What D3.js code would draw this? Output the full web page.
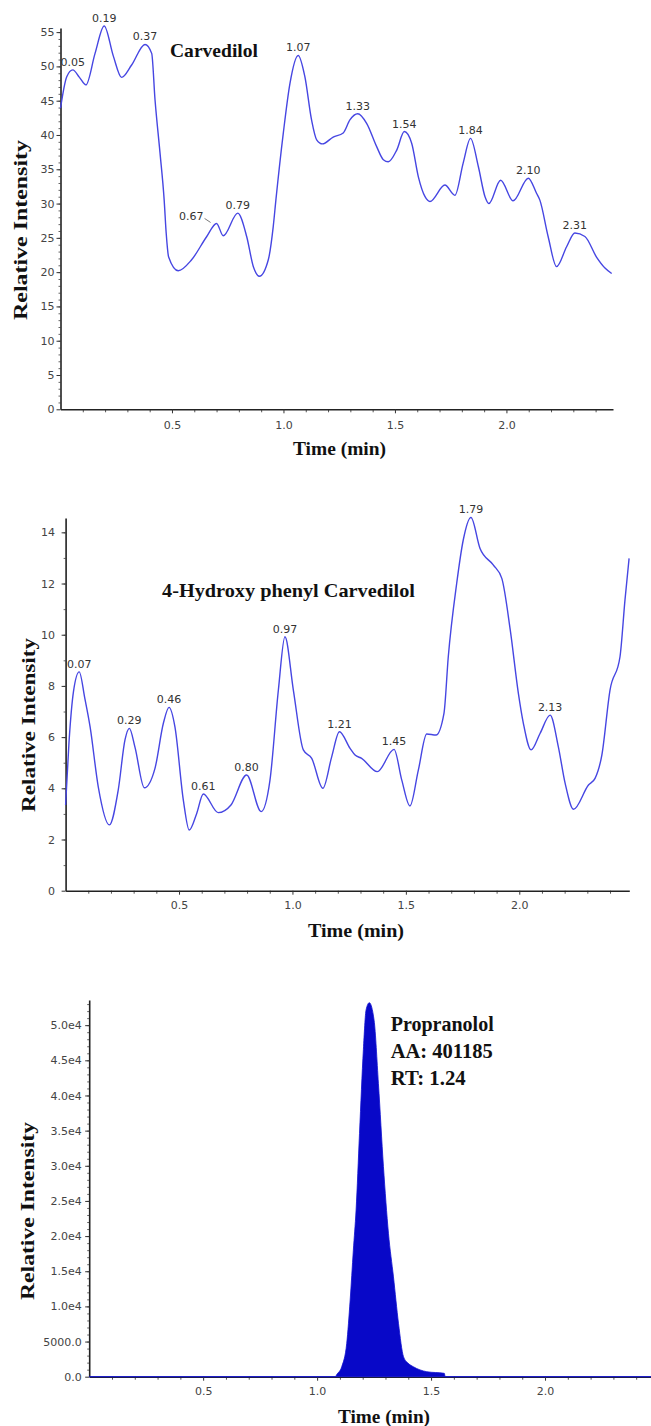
<!DOCTYPE html>
<html>
<head>
<meta charset="utf-8">
<script src="https://cdn.jsdelivr.net/npm/d3@7"></script>
<style>
    body { margin: 0; background: #fff; }
    svg text { font-family: "DejaVu Sans", Arial, sans-serif; }
    .tick text { fill: #444; font-size: 11px; }
    .peak-label { fill: #333; font-size: 11px; }
    .title { font-family: "Liberation Serif", "Times New Roman", serif; font-weight: bold; fill: #111; }
</style>
</head>
<body>
<svg id="chart" width="651" height="1426"></svg>
<script>
// Carvedilol trace (time in min, relative intensity)
const carvTime = [0.000, 0.028, 0.055, 0.085, 0.114, 0.155, 0.196, 0.237, 0.274, 0.319, 0.379, 0.409, 0.424, 0.446,
    0.465, 0.474, 0.485, 0.528, 0.588, 0.656, 0.700, 0.730, 0.795, 0.835, 0.865, 0.892, 0.932, 0.954, 0.966,
    0.999, 1.029, 1.066, 1.096, 1.126, 1.149, 1.175, 1.223, 1.268, 1.298, 1.333, 1.373, 1.418, 1.448, 1.470,
    1.508, 1.542, 1.575, 1.605, 1.635, 1.657, 1.724, 1.769, 1.806, 1.839, 1.874, 1.904, 1.921, 1.974, 2.030,
    2.098, 2.135, 2.150, 2.187, 2.225, 2.270, 2.307, 2.352, 2.404, 2.442, 2.472];
const carvValue = [43.9, 48.5, 49.5, 48.4, 47.3, 51.9, 55.9, 51.5, 48.4, 50.2, 53.2, 51.9, 45.1, 37.5,
    30.5, 25.7, 22.2, 20.2, 21.8, 25.2, 27.1, 25.3, 28.6, 25.2, 20.8, 19.4, 21.8, 26.6, 30.5,
    40.2, 47.5, 51.6, 48.5, 42.2, 39.3, 38.7, 39.7, 40.3, 42.2, 43.1, 41.7, 38.3, 36.4, 36.1,
    37.8, 40.5, 38.8, 33.9, 31.0, 30.3, 32.7, 31.2, 35.9, 39.5, 35.4, 31.0, 30.0, 33.4, 30.4,
    33.7, 31.5, 30.5, 25.2, 20.8, 23.7, 25.7, 25.2, 22.2, 20.6, 19.8];
const carvPeakTimes = [0.055, 0.196, 0.379, 0.700, 0.795, 1.066, 1.333, 1.542, 1.839, 2.098, 2.307];
const carvPeakLabels = ["0.05", "0.19", "0.37", "0.67", "0.79", "1.07", "1.33", "1.54", "1.84", "2.10", "2.31"];
const carvYTicks = [0, 5, 10, 15, 20, 25, 30, 35, 40, 45, 50, 55];

// 4-Hydroxy phenyl Carvedilol trace
const hydTime = [0.000, 0.015, 0.035, 0.060, 0.085, 0.108, 0.144, 0.193, 0.232, 0.262, 0.281, 0.306, 0.347, 0.394,
    0.431, 0.456, 0.482, 0.519, 0.545, 0.578, 0.607, 0.673, 0.729, 0.798, 0.862, 0.901, 0.938, 0.967, 1.004,
    1.048, 1.085, 1.134, 1.173, 1.207, 1.254, 1.276, 1.305, 1.374, 1.448, 1.482, 1.518, 1.555, 1.592, 1.633,
    1.668, 1.687, 1.724, 1.753, 1.787, 1.827, 1.886, 1.923, 1.960, 1.996, 2.018, 2.052, 2.092, 2.136, 2.172,
    2.202, 2.239, 2.305, 2.334, 2.364, 2.400, 2.444, 2.466, 2.484];
const hydValue = [3.35, 5.8, 7.8, 8.55, 7.5, 6.4, 4.06, 2.57, 3.93, 5.9, 6.34, 5.6, 4.02, 4.78,
    6.54, 7.16, 6.4, 3.54, 2.37, 3.02, 3.78, 3.05, 3.35, 4.52, 3.09, 4.32, 7.84, 9.92, 7.84,
    5.5, 5.17, 4.0, 5.23, 6.21, 5.56, 5.3, 5.17, 4.65, 5.52, 4.32, 3.31, 4.71, 6.12, 6.08,
    6.93, 9.14, 12.0, 13.7, 14.58, 13.37, 12.72, 12.2, 10.2, 7.71, 6.54, 5.5, 6.15, 6.86, 5.63,
    4.2, 3.18, 4.13, 4.39, 5.3, 7.84, 9.14, 11.36, 12.98];
const hydPeakTimes = [0.060, 0.281, 0.456, 0.607, 0.798, 0.967, 1.207, 1.448, 1.787, 2.136];
const hydPeakLabels = ["0.07", "0.29", "0.46", "0.61", "0.80", "0.97", "1.21", "1.45", "1.79", "2.13"];
const hydYTicks = [0, 2, 4, 6, 8, 10, 12, 14];

// Propranolol (internal standard) peak
const propTime = [0, 1.080, 1.086, 1.108, 1.130, 1.145, 1.159, 1.171, 1.186, 1.203, 1.215, 1.229, 1.250, 1.269,
    1.291, 1.313, 1.335, 1.357, 1.379, 1.400, 1.422, 1.481, 1.558, 1.562, 2.465];
const propValue = [0, 0, 300, 1420, 4750, 10900, 18000, 23700, 34600, 46500, 52200, 53200, 50700, 41700,
    29900, 20400, 14200, 7600, 2850, 1900, 1420, 710, 480, 0, 0];
const propYTicks = [0, 5000, 10000, 15000, 20000, 25000, 30000, 35000, 40000, 45000, 50000];
const propNote = ["Propranolol", "AA: 401185", "RT: 1.24"];

const timeTicks = [0.5, 1.0, 1.5, 2.0];

const svg = d3.select('#chart');

// Panel layouts
const panels = [
    {
        time: carvTime, value: carvValue, kind: 'line',
        xDomain: [0, 2.478], xRange: [60.5, 613],
        yDomain: [0, 55.6], yRange: [409.3, 28],
        yTicks: carvYTicks, yMinor: 1, yPad: 2, xPad: 8,
        yFormat: d => d,
        peaks: carvPeakTimes, peakLabels: carvPeakLabels,
        name: { text: 'Carvedilol', x: 170, y: 57, len: 88, size: 19 },
        xTitle: { x: 293, y: 455, len: 93 },
        yTitle: { x: 26.5, y: 230, len: 180 }
    },
    {
        time: hydTime, value: hydValue, kind: 'line',
        xDomain: [0, 2.485], xRange: [65.6, 629.3],
        yDomain: [0, 14.56], yRange: [890.7, 518],
        yTicks: hydYTicks, yMinor: 1, yPad: 6.5, xPad: 6.5,
        yFormat: d => d,
        peaks: hydPeakTimes, peakLabels: hydPeakLabels,
        name: { text: '4-Hydroxy phenyl Carvedilol', x: 162, y: 597, len: 253, size: 19 },
        xTitle: { x: 308, y: 937, len: 96 },
        yTitle: { x: 34.5, y: 725, len: 174 }
    },
    {
        time: propTime, value: propValue, kind: 'area',
        xDomain: [0, 2.465], xRange: [89.2, 651],
        yDomain: [0, 53580], yRange: [1376.7, 1000],
        yTicks: propYTicks, yMinor: 1000, yPad: 3.5, xPad: 7,
        yFormat: d => d >= 10000 ? (d / 10000).toFixed(1) + 'e4' : d.toFixed(1),
        peaks: [], peakLabels: [],
        xTitle: { x: 338, y: 1423, len: 92 },
        yTitle: { x: 34, y: 1211, len: 178 }
    }
];

panels.forEach(drawPanel);

function drawPanel(p) {
    const x = d3.scaleLinear().domain(p.xDomain).range(p.xRange);
    const y = d3.scaleLinear().domain(p.yDomain).range(p.yRange);
    const g = svg.append('g');

    // minor ticks
    const xMinor = d3.range(0.1, p.xDomain[1], 0.1).filter(t => Math.abs(t * 2 - Math.round(t * 2)) > 1e-6);
    g.append('g')
        .attr('transform', `translate(0,${p.yRange[0]})`)
        .call(d3.axisBottom(x).tickValues(xMinor).tickSize(3).tickFormat(''))
        .call(a => a.select('.domain').remove())
        .call(a => a.selectAll('line').attr('stroke', '#555'));
    const yMinor = d3.range(p.yMinor, p.yDomain[1], p.yMinor);
    g.append('g')
        .attr('transform', `translate(${p.xRange[0]},0)`)
        .call(d3.axisLeft(y).tickValues(yMinor).tickSize(2).tickFormat(''))
        .call(a => a.select('.domain').remove())
        .call(a => a.selectAll('line').attr('stroke', '#666'));

    // main axes
    g.append('g')
        .attr('transform', `translate(0,${p.yRange[0]})`)
        .call(d3.axisBottom(x).tickValues(timeTicks).tickFormat(d3.format('.1f'))
            .tickSize(4).tickSizeOuter(0).tickPadding(p.xPad))
        .call(a => a.select('.domain').attr('stroke', '#222').attr('stroke-width', 1.6))
        .call(a => a.selectAll('line').attr('stroke', '#333'))
        .call(a => a.selectAll('text').attr('font-size', 11).attr('fill', '#444'));
    g.append('g')
        .attr('transform', `translate(${p.xRange[0]},0)`)
        .call(d3.axisLeft(y).tickValues(p.yTicks).tickFormat(p.yFormat)
            .tickSize(4).tickSizeOuter(0).tickPadding(p.yPad))
        .call(a => a.select('.domain').attr('stroke', '#222').attr('stroke-width', 1.6))
        .call(a => a.selectAll('line').attr('stroke', '#333'))
        .call(a => a.selectAll('text').attr('font-size', 11).attr('fill', '#444'));

    const pts = p.time.map((t, i) => ({ t, v: p.value[i] }));

    if (p.kind === 'line') {
        const line = d3.line()
            .x(d => x(d.t))
            .y(d => y(d.v))
            .curve(d3.curveMonotoneX);
        g.append('path')
            .datum(pts)
            .attr('fill', 'none')
            .attr('stroke', '#4646e2')
            .attr('stroke-width', 1.4)
            .attr('d', line);
    } else {
        const area = d3.area()
            .x(d => x(d.t))
            .y0(y(0))
            .y1(d => y(d.v))
            .curve(d3.curveMonotoneX);
        g.append('path')
            .datum(pts)
            .attr('fill', '#0808c8')
            .attr('stroke', '#1010d0')
            .attr('stroke-width', 0.8)
            .attr('d', area);
    }

    // peak labels
    p.peaks.forEach((t, i) => {
        const idx = d3.minIndex(p.time, d => Math.abs(d - t));
        const px = x(p.time[idx]);
        const py = y(p.value[idx]);
        const text = p.peakLabels[i];
        if (text === '0.67') {
            // label sits to the left with a short leader
            g.append('text').attr('class', 'peak-label')
                .attr('x', px - 13).attr('y', py - 3)
                .attr('text-anchor', 'end')
                .text(text);
            g.append('line')
                .attr('x1', px - 12).attr('y1', py - 5)
                .attr('x2', px - 6).attr('y2', py - 1)
                .attr('stroke', '#555').attr('stroke-width', 0.8);
        } else {
            g.append('text').attr('class', 'peak-label')
                .attr('x', px).attr('y', py - 4)
                .attr('text-anchor', 'middle')
                .text(text);
        }
    });

    // titles
    if (p.name) {
        g.append('text').attr('class', 'title')
            .attr('x', p.name.x).attr('y', p.name.y)
            .attr('font-size', p.name.size)
            .attr('textLength', p.name.len).attr('lengthAdjust', 'spacingAndGlyphs')
            .text(p.name.text);
    }
    g.append('text').attr('class', 'title')
        .attr('x', p.xTitle.x).attr('y', p.xTitle.y)
        .attr('font-size', 19)
        .attr('textLength', p.xTitle.len).attr('lengthAdjust', 'spacingAndGlyphs')
        .text('Time (min)');
    g.append('text').attr('class', 'title')
        .attr('transform', `translate(${p.yTitle.x},${p.yTitle.y}) rotate(-90)`)
        .attr('text-anchor', 'middle')
        .attr('font-size', 19)
        .attr('textLength', p.yTitle.len).attr('lengthAdjust', 'spacingAndGlyphs')
        .text('Relative Intensity');

    if (p.kind === 'area') {
        const note = g.append('text').attr('class', 'title').attr('font-size', 20);
        const lens = [103, 102, 75];
        propNote.forEach((s, i) => {
            note.append('tspan')
                .attr('x', 390.7).attr('y', 1030.7 + i * 27.2)
                .attr('textLength', lens[i]).attr('lengthAdjust', 'spacingAndGlyphs')
                .text(s);
        });
    }
}
</script>
</body>
</html>
